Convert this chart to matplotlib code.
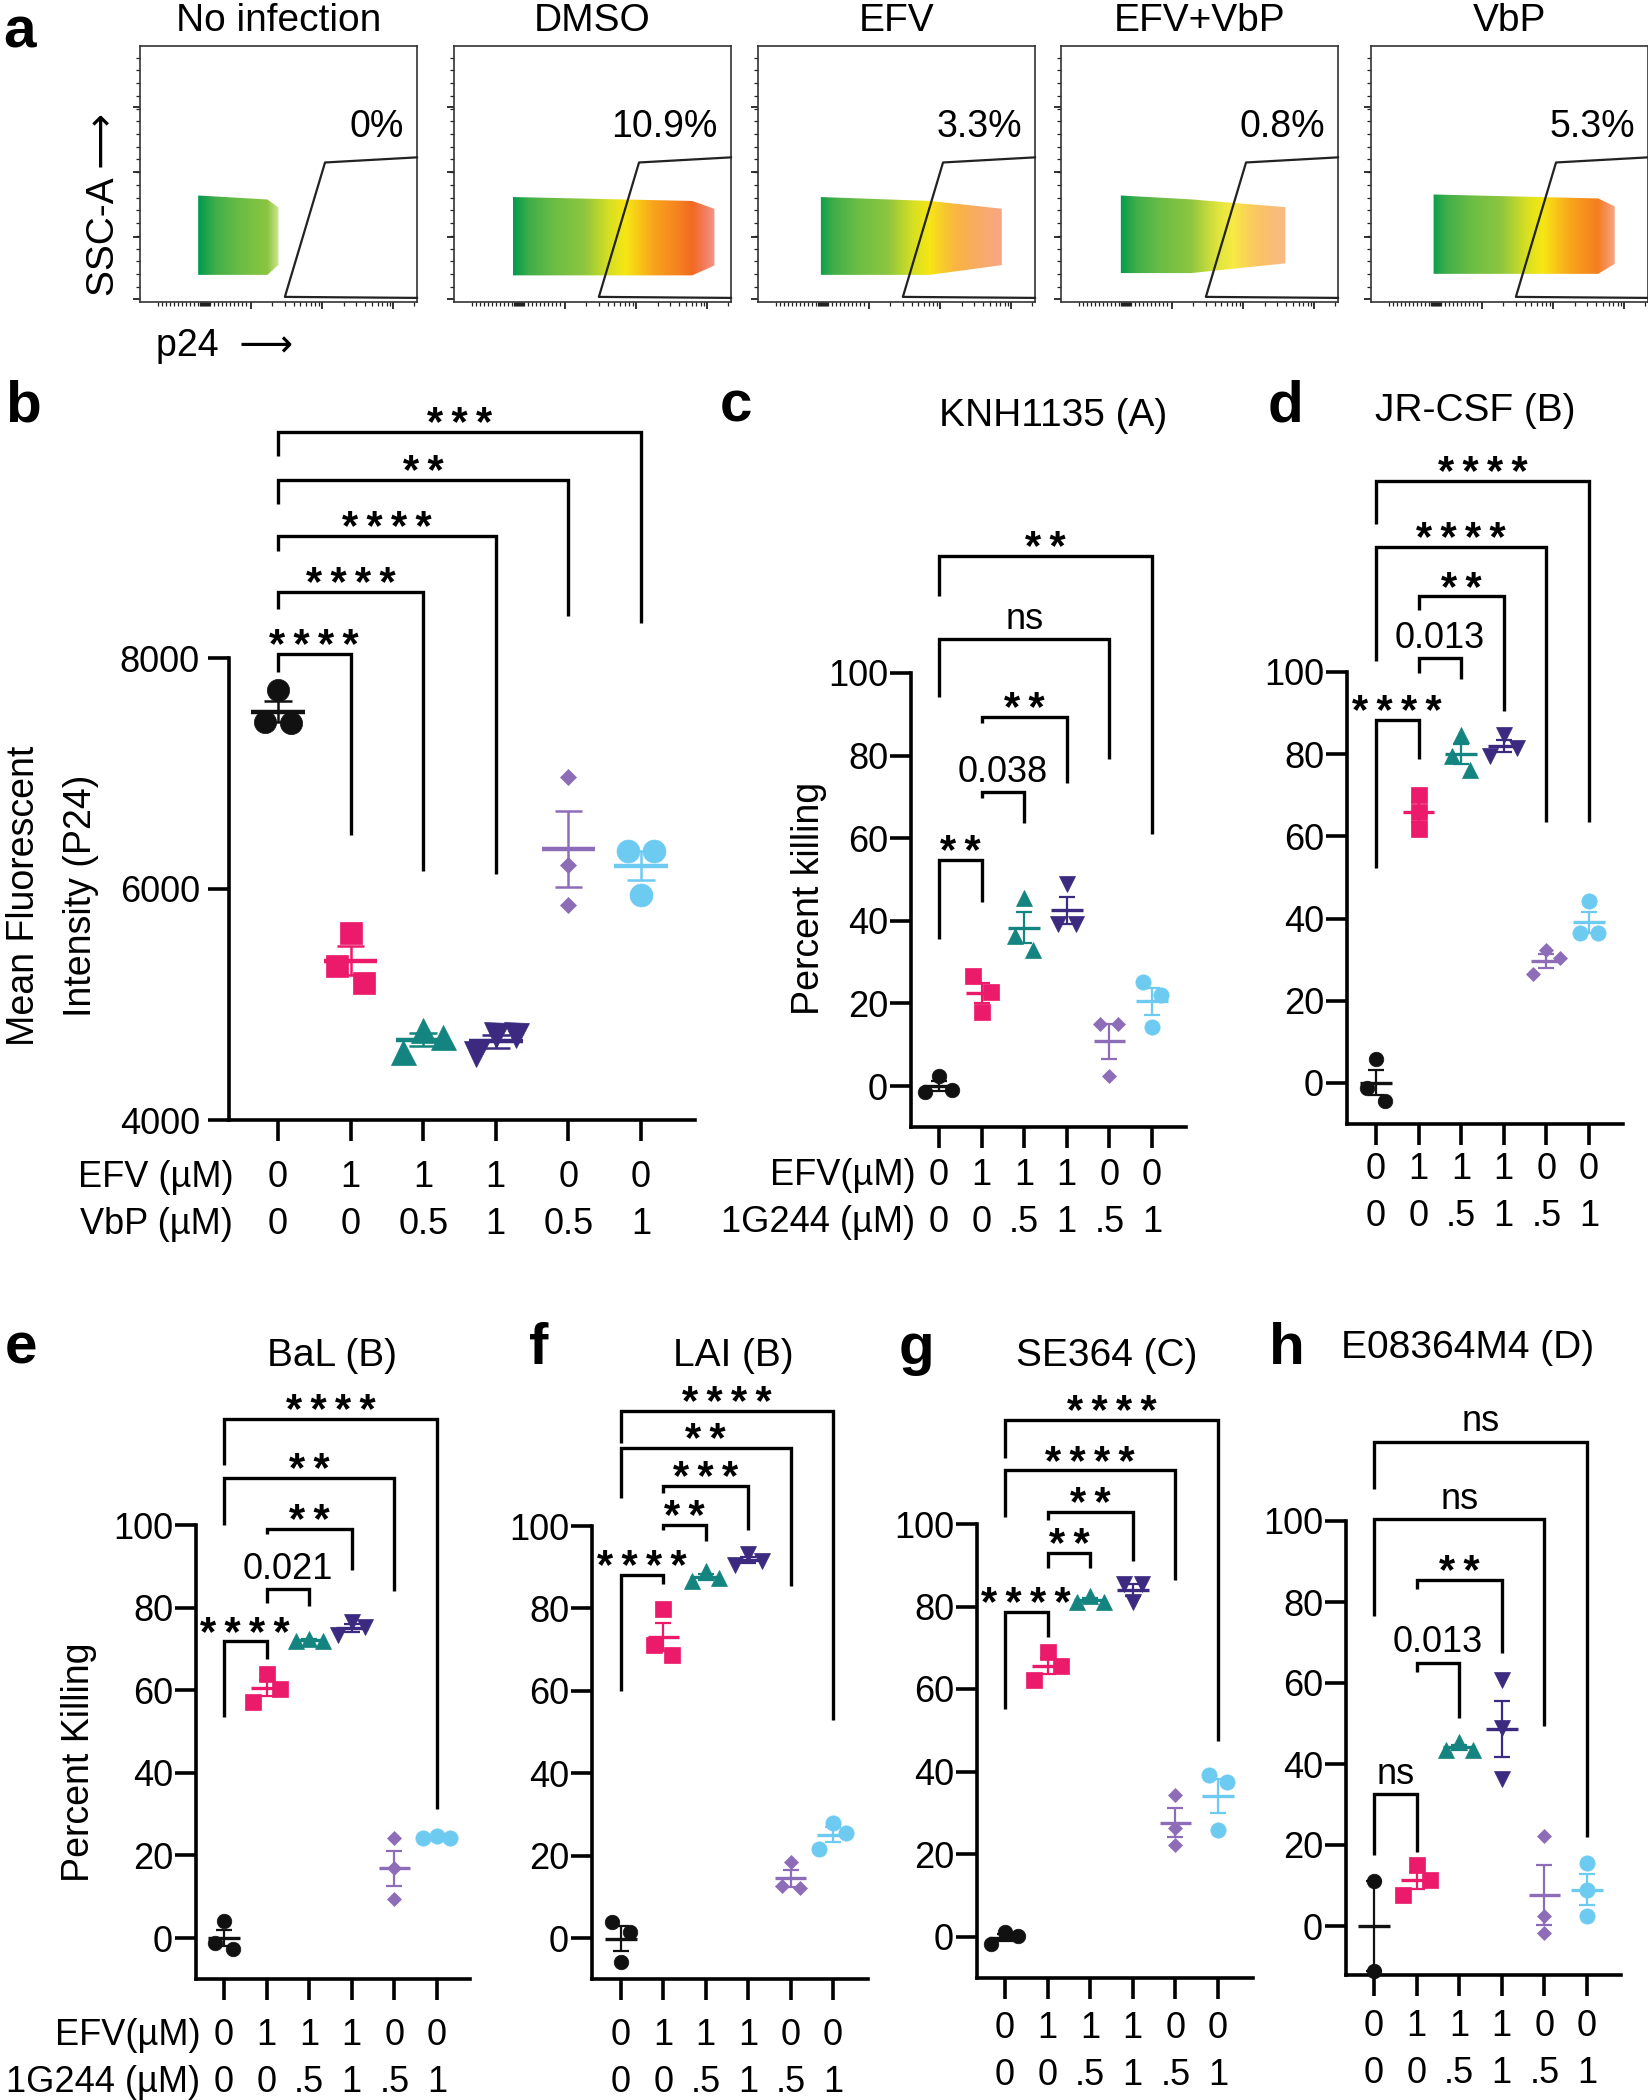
"""
Flow plots of p24 staining (a) and dot plots of MFI / percent killing (b-h).
"""
import numpy as np
import matplotlib
matplotlib.use("Agg")
import matplotlib.pyplot as plt
from matplotlib import transforms
from matplotlib.colors import LinearSegmentedColormap
from matplotlib.patches import Polygon

W, H = 1649, 2100

# ---------------- panel a: flow cytometry ----------------
flow_titles = ["No infection", "DMSO", "EFV", "EFV+VbP", "VbP"]
flow_pct = ["0%", "10.9%", "3.3%", "0.8%", "5.3%"]
# event cloud extent, as fraction of the plot (p24 on x, SSC-A on y)
cloud_left = [0.21, 0.213, 0.227, 0.216, 0.226]
cloud_dense = [0.46, 0.86, 0.62, 0.47, 0.82]
cloud_right = [0.50, 0.94, 0.88, 0.81, 0.88]
cloud_low = [0.106, 0.104, 0.106, 0.113, 0.11]
cloud_high = [0.416, 0.41, 0.41, 0.416, 0.42]
gate_x = [1.0, 0.668, 0.523, 1.0]
gate_y = [0.565, 0.545, 0.02, 0.016]

# ---------------- panels b-h ----------------
b_efv = ["0", "1", "1", "1", "0", "0"]
b_vbp = ["0", "0", "0.5", "1", "0.5", "1"]
k_efv = ["0", "1", "1", "1", "0", "0"]
k_1g244 = ["0", "0", ".5", "1", ".5", "1"]

b_vals = [[7720, 7440, 7450], [5620, 5330, 5190], [4780, 4720, 4590],
          [4740, 4740, 4570], [6970, 6210, 5860], [6330, 6330, 5950]]
c_vals = [[2.4, -1.0, -1.4], [26.6, 22.8, 18.0], [45.6, 36.4, 33.0],
          [48.9, 39.3, 39.3], [15.0, 15.0, 2.4], [25.2, 22.1, 14.3]]
d_vals = [[5.8, -1.3, -4.4], [70.0, 65.9, 61.8], [84.7, 79.5, 76.1],
          [84.7, 81.6, 79.5], [32.4, 30.4, 26.6], [44.3, 36.5, 36.5]]
e_vals = [[4.0, -1.3, -2.7], [64.0, 60.4, 57.2], [72.5, 72.0, 72.0],
          [76.6, 75.3, 73.4], [24.3, 16.9, 9.4], [24.8, 24.2, 24.2]]
f_vals = [[4.0, 1.4, -5.8], [79.8, 71.0, 68.6], [89.0, 87.5, 86.6],
          [93.3, 91.5, 90.5], [18.5, 12.7, 12.2], [27.9, 25.6, 21.7]]
g_vals = [[1.0, 0.1, -1.9], [69.0, 65.6, 62.1], [82.5, 81.0, 81.0],
          [85.5, 85.5, 81.2], [34.2, 26.4, 22.1], [39.1, 37.4, 25.7]]
h_vals = [[11.0, -11.0], [15.0, 11.3, 7.7], [45.4, 43.5, 43.5],
          [60.7, 48.8, 36.4], [22.2, 2.4, -1.8], [15.6, 9.0, 2.4]]

# comparisons: (group i, group j, bar height, left leg end, right leg end, label)
b_cmp = [(0, 1, 8034, 7878, 6469, "****"), (0, 2, 8573, 8423, 6153, "****"),
         (0, 3, 9060, 8923, 6129, "****"), (0, 4, 9541, 9337, 8365, "**"),
         (0, 5, 9954, 9750, 8306, "***")]
c_cmp = [(0, 1, 54.8, 35.7, 44.6, "**"), (1, 2, 71.1, 69.7, 63.6, "0.038"),
         (1, 3, 89.4, 88.0, 73.4, "**"), (0, 4, 108.2, 94.2, 79.2, "ns"),
         (0, 5, 128.4, 118.6, 60.9, "**")]
d_cmp = [(0, 1, 88.4, 52.3, 78.9, "****"), (1, 2, 103.4, 99.7, 98.4, "0.013"),
         (1, 3, 118.4, 115.0, 90.4, "**"), (0, 4, 130.4, 102.7, 63.6, "****"),
         (0, 5, 146.4, 136.1, 63.6, "****")]
e_cmp = [(0, 1, 71.8, 53.6, 67.5, "****"), (1, 2, 84.4, 81.2, 80.5, "0.021"),
         (1, 3, 99.1, 97.8, 89.2, "**"), (0, 4, 111.3, 100.0, 84.0, "**"),
         (0, 5, 125.7, 114.5, 31.2, "****")]
f_cmp = [(0, 1, 88.2, 59.9, 85.9, "****"), (1, 2, 100.3, 99.0, 96.4, "**"),
         (1, 3, 109.8, 108.1, 99.0, "***"), (0, 4, 118.9, 106.8, 85.5, "**"),
         (0, 5, 128.0, 120.2, 53.0, "****")]
g_cmp = [(0, 1, 78.7, 55.2, 72.7, "****"), (1, 2, 92.9, 89.4, 89.4, "**"),
         (1, 3, 103.0, 101.0, 91.0, "**"), (0, 4, 113.0, 101.7, 86.4, "****"),
         (0, 5, 125.3, 116.0, 47.4, "****")]
h_cmp = [(0, 1, 32.5, 17.6, 18.3, "ns"), (1, 2, 65.0, 62.6, 51.4, "0.013"),
         (1, 3, 85.4, 83.2, 67.3, "**"), (0, 4, 100.4, 76.6, 49.4, "ns"),
         (0, 5, 119.6, 107.9, 21.9, "ns")]

COLORS = ["#111111", "#EC1A6A", "#13847F", "#3B2A80", "#8E6DB8", "#6DCBF2"]
MARKERS = ["o", "s", "^", "v", "D", "o"]

plt.rcParams.update({
    "font.family": ["Liberation Sans", "DejaVu Sans"],
    "font.size": 26,
})
FS = 26
LS = 1.45  # line spacing of the two rows of x labels

fig = plt.figure(figsize=(W / 100, H / 100), dpi=100)


def px_text(x, y, s, **kw):
    return fig.text(x / W, 1 - y / H, s, **kw)


# ---------------- panel a ----------------
p24_cmap = LinearSegmentedColormap.from_list("p24", [
    (0.0, "#009a4e"), (0.21, "#009a4e"), (0.27, "#3fae49"), (0.36, "#6bbd45"),
    (0.47, "#8dc63f"), (0.56, "#d6df23"), (0.62, "#f6e714"), (0.72, "#f9a51b"),
    (0.83, "#f47a20"), (0.93, "#ee4424"), (1.0, "#e8261f")])

flow_left = [140, 454, 758, 1061, 1371]
flow_w, flow_top, flow_bot = 277, 46, 302

lin_ticks = np.arange(0.065, 0.395, 0.0145)
zero_ticks = np.linspace(0.217, 0.25, 8)
log_ticks = [s + 0.258 * np.log10(k) for s in (0.399, 0.657) for k in range(2, 10)] + [0.99]
xs = np.linspace(0, 1, 600)

for i, title in enumerate(flow_titles):
    ax = fig.add_axes([flow_left[i] / W, 1 - flow_bot / H, flow_w / W, (flow_bot - flow_top) / H])
    ax.set_xlim(0, 1)
    ax.set_ylim(0, 1)
    x0, xd, x1 = cloud_left[i], cloud_dense[i], cloud_right[i]
    lo, hi = cloud_low[i], cloud_high[i]
    mid, half = (lo + hi) / 2, (hi - lo) / 2
    rgba = p24_cmap(xs)
    alpha = np.ones_like(xs)
    fade = xs > xd
    alpha[fade] = np.clip(1 - 0.45 * (xs[fade] - xd) / max(x1 - xd, 1e-3), 0.55, 1)
    rgba[:, 3] = alpha
    img = ax.imshow(np.repeat(rgba[None, :, :], 2, axis=0), extent=(0, 1, 0, 1),
                    aspect="auto", origin="lower", interpolation="bilinear", zorder=1)
    cloud = Polygon([(x0, lo), (xd, lo), (x1, mid - 0.75 * half), (x1, mid + 0.7 * half),
                     (xd, hi - 0.1 * half), (x0, hi)], closed=True, facecolor="none",
                    edgecolor="none", transform=ax.transData)
    ax.add_patch(cloud)
    img.set_clip_path(cloud)

    ax.plot(gate_x, gate_y, color="#222222", lw=1.6, zorder=3, clip_on=False)
    ax.text(0.953, (flow_bot - 137) / (flow_bot - flow_top), flow_pct[i], transform=ax.transAxes,
            ha="right", va="baseline", fontsize=27)
    ax.set_title(title, fontsize=28, pad=11)

    for sp in ax.spines.values():
        sp.set_linewidth(1.2)
        sp.set_color("#333333")
    ax.set_yticks([0.01, 0.255, 0.506, 0.76], labels=[])
    ax.set_yticks(np.arange(0.01, 0.99, 0.0497), minor=True)
    ax.set_xticks([0.399, 0.657, 0.915], labels=[])
    ax.set_xticks(np.concatenate([lin_ticks, zero_ticks, log_ticks]), minor=True)
    ax.tick_params(which="major", length=5, width=1.3, color="#222222")
    ax.tick_params(which="minor", length=3, width=0.9, color="#222222")

px_text(104, 205, "SSC-A \u27F6", rotation=90, ha="center", va="center", fontsize=28)
px_text(156, 346, "p24  \u27F6", ha="left", va="center", fontsize=27)


# ---------------- panels b-h ----------------
def add_panel(left, right, v_lo, px_lo, v_hi, px_hi, ymin, top_px, cat0, cat5):
    scale = (px_lo - px_hi) / (v_hi - v_lo)  # px per data unit
    base_px = px_lo + (v_lo - ymin) * scale
    ymax = v_lo + (px_lo - top_px) / scale
    ax = fig.add_axes([left / W, 1 - base_px / H, (right - left) / W, (base_px - top_px) / H])
    ax.set_ylim(ymin, ymax)
    step = (cat5 - cat0) / 5
    ax.set_xlim((left - cat0) / step, (right - cat0) / step)
    return ax, scale, step


def swarm(vals, y_px, x_px, diam):
    """Spread overlapping points sideways, prism style."""
    vals = np.asarray(vals, float)
    order = np.argsort(-vals)
    offs = np.zeros(len(vals))
    clusters, cur = [], [order[0]]
    for a, b in zip(order[:-1], order[1:]):
        if (vals[a] - vals[b]) * y_px < 1.08 * diam:
            cur.append(b)
        else:
            clusters.append(cur)
            cur = [b]
    clusters.append(cur)
    for cl in clusters:
        if len(cl) == 2:
            pos = [-0.6, 0.6]
        elif len(cl) == 3:
            pos = [0.0, 0.9, -0.9]
        else:
            pos = [0.0] * len(cl)
        for idx, p in zip(cl, pos):
            offs[idx] = p * diam / x_px
    return offs


def draw_panel(ax, scale, step, vals, cmps, ytop, yticks, row1, row2, header,
               xpad, ypad, sizes, diam, lw_mean, lw_err, lw_axis=2.6):
    for g, v in enumerate(vals):
        v = np.asarray(v, float)
        offs = swarm(v, scale, step, diam)
        ax.plot(g + offs, v, ls="none", marker=MARKERS[g], ms=sizes[g],
                color=COLORS[g], mec=COLORS[g], mew=0.5, zorder=3, clip_on=False)
        m = v.mean()
        sem = v.std(ddof=1) / np.sqrt(len(v))
        ax.hlines(m, g - 0.37, g + 0.37, color=COLORS[g], lw=lw_mean, zorder=4)
        ax.vlines(g, m - sem, m + sem, color=COLORS[g], lw=lw_err, zorder=4)
        ax.hlines([m - sem, m + sem], g - 0.19, g + 0.19, color=COLORS[g], lw=lw_err, zorder=4)

    for i, j, bar, yl, yr, lab in cmps:
        ax.plot([i, i, j, j], [yl, bar, bar, yr], color="black", lw=2.4, clip_on=False,
                solid_joinstyle="miter", solid_capstyle="butt", zorder=2)
        if lab.startswith("*"):
            tr = transforms.offset_copy(ax.transData, fig=fig, y=-3, units="points")
            ax.text((i + j) / 2, bar, "\u2009".join(lab), transform=tr, ha="center",
                    va="baseline", fontsize=30, fontweight="bold", clip_on=False)
        else:
            tr = transforms.offset_copy(ax.transData, fig=fig, y=7.5, units="points")
            ax.text((i + j) / 2, bar, lab, transform=tr, ha="center",
                    va="baseline", fontsize=FS, clip_on=False)

    ax.spines["top"].set_visible(False)
    ax.spines["right"].set_visible(False)
    ax.spines["left"].set_bounds(ax.get_ylim()[0], ytop)
    for s in ("left", "bottom"):
        ax.spines[s].set_linewidth(lw_axis)
    ax.set_yticks(yticks)
    ax.set_xticks(range(6), labels=[f"{a}\n{b}" for a, b in zip(row1, row2)],
                  linespacing=LS)
    ax.tick_params(axis="both", length=15, width=lw_axis, labelsize=FS)
    ax.tick_params(axis="x", pad=xpad)
    ax.tick_params(axis="y", pad=ypad)
    if header:
        off = transforms.ScaledTranslation(3 / 72, -(15 + xpad) / 72, fig.dpi_scale_trans)
        ax.text(0, 0, header, transform=ax.transAxes + off, ha="right", va="top",
                multialignment="right", linespacing=LS, fontsize=FS)


kill_ticks = [0, 20, 40, 60, 80, 100]
small = [10.5, 11, 12, 12, 7.5, 11]

# b
ax, sc, st = add_panel(229, 695, 4000, 1120, 8000, 658, 4000, 420, 278, 641)
draw_panel(ax, sc, st, b_vals, b_cmp, 8000, [4000, 6000, 8000], b_efv, b_vbp,
           "EFV (\u00b5M)\nVbP (\u00b5M)", xpad=14, ypad=6,
           sizes=[16, 16, 18, 18, 8.5, 16.5], diam=22, lw_mean=3.2, lw_err=1.8)
px_text(53, 896, "Mean Fluorescent\nIntensity (P24)", rotation=90, ha="center",
        va="center", linespacing=1.75, fontsize=27)

# c
ax, sc, st = add_panel(911, 1186, 0, 1086, 100, 673, -10, 440, 939, 1152)
draw_panel(ax, sc, st, c_vals, c_cmp, 100, kill_ticks, k_efv, k_1g244,
           "EFV(\u00b5M)\n1G244 (\u00b5M)", xpad=7, ypad=1.5, sizes=small, diam=15,
           lw_mean=2.4, lw_err=1.6)
px_text(809, 898, "Percent killing", rotation=90, ha="center", va="center", fontsize=27)

# d
ax, sc, st = add_panel(1347, 1623, 0, 1083, 100, 672, -10, 440, 1376, 1589)
draw_panel(ax, sc, st, d_vals, d_cmp, 100, kill_ticks, k_efv, k_1g244, None,
           xpad=5, ypad=1.5, sizes=small, diam=15, lw_mean=2.4, lw_err=1.6)

# e
ax, sc, st = add_panel(196, 470, 0, 1938, 100, 1525, -10, 1390, 224, 437)
draw_panel(ax, sc, st, e_vals, e_cmp, 100, kill_ticks, k_efv, k_1g244,
           "EFV(\u00b5M)\n1G244 (\u00b5M)", xpad=13, ypad=1.5, sizes=small, diam=15,
           lw_mean=2.4, lw_err=1.6)
px_text(79, 1762, "Percent Killing", rotation=90, ha="center", va="center", fontsize=27)

# f
ax, sc, st = add_panel(592, 868, 0, 1938, 100, 1526, -10, 1390, 621, 833)
draw_panel(ax, sc, st, f_vals, f_cmp, 100, kill_ticks, k_efv, k_1g244, None,
           xpad=13, ypad=1.5, sizes=small, diam=15, lw_mean=2.4, lw_err=1.6)

# g
ax, sc, st = add_panel(977, 1253, 0, 1936.5, 100, 1524, -10, 1390, 1005, 1218)
draw_panel(ax, sc, st, g_vals, g_cmp, 100, kill_ticks, k_efv, k_1g244, None,
           xpad=9, ypad=1.5, sizes=small, diam=15, lw_mean=2.4, lw_err=1.6)

# h
ax, sc, st = add_panel(1346, 1621, 0, 1926, 100, 1521, -12, 1390, 1374, 1587)
draw_panel(ax, sc, st, h_vals, h_cmp, 100, kill_ticks, k_efv, k_1g244, None,
           xpad=10, ypad=1.5, sizes=small, diam=15, lw_mean=2.4, lw_err=1.6)

# titles
for x, y, t in [(1053, 416, "KNH1135 (A)"), (1475, 411, "JR-CSF (B)"),
                (332, 1356, "BaL (B)"), (733, 1356, "LAI (B)"),
                (1107, 1356, "SE364 (C)"), (1468, 1348, "E08364M4 (D)")]:
    px_text(x, y, t, ha="center", va="center", fontsize=28)

# panel letters
for x, y, t in [(3, 48, "a"), (5, 422, "b"), (720, 422, "c"), (1268, 422, "d"),
                (5, 1364, "e"), (529, 1364, "f"), (899, 1364, "g"), (1269, 1364, "h")]:
    px_text(x, y, t, ha="left", va="baseline", fontsize=42, fontweight="bold")

fig.savefig("out.png", dpi=100, facecolor="white")
